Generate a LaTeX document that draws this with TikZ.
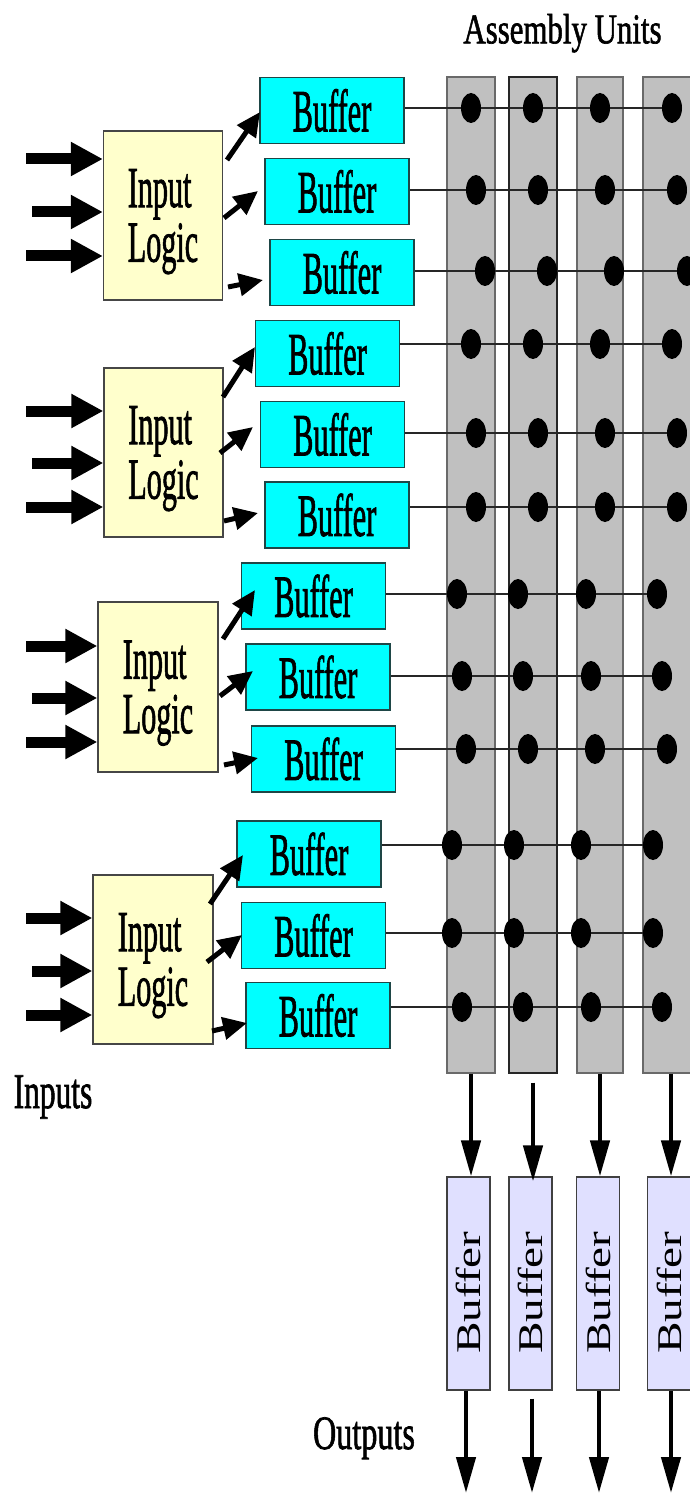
\documentclass[tikz,border=0pt]{standalone}
\usepackage{fontspec}
\setmainfont{Liberation Serif}
\newfontfamily\heavy[FakeBold=1.6]{Liberation Serif}
\usepackage{graphicx}
\usetikzlibrary{arrows.meta,shapes.geometric,calc}
\definecolor{bufcyan}{RGB}{0,255,255}
\definecolor{bufedge}{RGB}{30,70,70}
\definecolor{logicfill}{RGB}{255,255,204}
\definecolor{logicedge}{RGB}{70,70,70}
\definecolor{colfill}{RGB}{192,192,192}
\definecolor{coledge}{RGB}{105,105,105}
\definecolor{obuf}{RGB}{224,224,255}
\newcommand{\sqz}[3]{\scalebox{#1}[1]{\heavy\fontsize{#2}{#2}\selectfont #3}}
\newcommand{\buftext}{\sqz{0.505}{60}{Buffer}}
\newcommand{\lgtext}{\raisebox{-8pt}[\height][\depth]{\scalebox{0.52}[1]{\heavy\fontsize{58}{54}\selectfont\begin{tabular}{@{}l@{}}Input\\Logic\end{tabular}}}}
\newcommand{\obtext}{\scalebox{1.36}[1]{\fontsize{34.7}{34.7}\selectfont Buffer}\rule{18pt}{0pt}}
\pgfdeclarelayer{back}
\pgfdeclarelayer{wires}
\pgfsetlayers{back,wires,main}
\tikzset{
 bufbox/.style={draw=bufedge, fill=bufcyan, line width=1.3pt, minimum width=144pt, minimum height=66pt, inner sep=0pt},
 logicbox/.style={draw=logicedge, fill=logicfill, line width=1.2pt, minimum width=119pt, minimum height=169pt, inner sep=0pt},
 colbox/.style={draw=coledge, fill=colfill, line width=1.2pt, inner sep=0pt, minimum height=996pt},
 obufbox/.style={draw=black!75, fill=obuf, line width=1.2pt, minimum width=213pt, minimum height=43pt, inner sep=0pt, rotate=90},
 dot/.style={ellipse, fill=black, minimum width=20pt, minimum height=30pt, inner sep=0pt},
 wire/.style={draw=black!85, line width=1.6pt},
 inarr/.style={line width=11pt, -{Triangle[length=32pt,width=32pt]}},
 outarr/.style={line width=5pt, -{Triangle[length=24pt,width=22pt]}},
 colarr/.style={line width=4.5pt, -{Triangle[length=36pt,width=19pt]}},
 txt/.style={inner sep=0pt, anchor=base},
}
\begin{document}
\begin{tikzpicture}[x=1pt,y=-1pt]
\useasboundingbox (0,0) rectangle (689,1495);

% background and assembly unit columns
\begin{pgfonlayer}{back}
\fill[white] (0,0) rectangle (689,1495);
\node[colbox, minimum width=48pt] (C1) at (471,575) {};
\node[colbox, minimum width=48pt, draw=black!85] (C2) at (533,575) {};
\node[colbox, minimum width=46pt] (C3) at (600,575) {};
\node[colbox, minimum width=52pt] (C4) at (669,575) {};
\end{pgfonlayer}

\node[txt] (AU) at (562.5,43.3) {\sqz{0.73}{42.3}{Assembly Units}};
\node[txt] (IN) at (53,1108) {\sqz{0.63}{50}{Inputs}};
\node[txt] (OUT) at (364,1449) {\sqz{0.67}{48}{Outputs}};

% input logic boxes
\node[logicbox] (L1) at (163,215.5) {\lgtext};
\node[logicbox] (L2) at (163.5,452.5) {\lgtext};
\node[logicbox, minimum width=120pt, minimum height=170pt] (L3) at (158,687) {\lgtext};
\node[logicbox, minimum width=120pt] (L4) at (153,959.5) {\lgtext};

% buffers
\node[bufbox] (B11) at (332,110.5) {\buftext};
\node[bufbox] (B12) at (337,191.5) {\buftext};
\node[bufbox] (B13) at (342,272.5) {\buftext};
\node[bufbox] (B21) at (327.5,353.5) {\buftext};
\node[bufbox] (B22) at (332.5,434.5) {\buftext};
\node[bufbox] (B23) at (337,515) {\buftext};
\node[bufbox] (B31) at (313.5,596) {\buftext};
\node[bufbox] (B32) at (318,677) {\buftext};
\node[bufbox] (B33) at (323.5,759) {\buftext};
\node[bufbox] (B41) at (309,854) {\buftext};
\node[bufbox] (B42) at (313.5,935.5) {\buftext};
\node[bufbox] (B43) at (318,1015.5) {\buftext};

% dots
\foreach \g/\r/\y/\a/\b/\c/\d in {
 1/1/108/471/533/600/672, 1/2/190/476/538/605/677, 1/3/271/485/547/614/687,
 2/1/344/471/533/600/672, 2/2/433/476/538/605/677, 2/3/507/476/538/605/677,
 3/1/594/457/518/586/657, 3/2/676/462/523/591/662, 3/3/749/466/528/595/667,
 4/1/845/452/514/581/653, 4/2/933/452/514/581/653, 4/3/1007/462/523/591/662}{
 \node[dot] (D\g\r1) at (\a,\y) {};
 \node[dot] (D\g\r2) at (\b,\y) {};
 \node[dot] (D\g\r3) at (\c,\y) {};
 \node[dot] (D\g\r4) at (\d,\y) {};
}
\begin{pgfonlayer}{wires}
\foreach \g in {1,2,3,4}{
 \foreach \r in {1,2,3}{
  \draw[wire] (B\g\r.east |- D\g\r4) -- (D\g\r4.center);
 }
}
\end{pgfonlayer}

% input arrows
\foreach \g/\ya/\yb/\yc in {1/159/212/256, 2/411/463/507, 3/646/698/742, 4/918/971/1015}{
 \coordinate (I\g1) at (26,\ya);
 \coordinate (I\g2) at (32,\yb);
 \coordinate (I\g3) at (26,\yc);
 \draw[inarr] (I\g1) -- (L\g.west |- I\g1);
 \draw[inarr] (I\g2) -- (L\g.west |- I\g2);
 \draw[inarr] (I\g3) -- (L\g.west |- I\g3);
}

% logic to buffer arrows
\foreach \g/\r/\sx/\sy/\ex/\ey in {
 1/1/227/160/260/112, 1/2/224/218/258/191, 1/3/228/287/263/280,
 2/1/223/397/255/347, 2/2/220/453/253/427, 2/3/224/521/258/513,
 3/1/223/639/255/590, 3/2/220/696/253/671, 3/3/224/765/258/758,
 4/1/210/904/243/855, 4/2/207/962/242/935, 4/3/212/1031/247/1023}{
 \coordinate (S\g\r) at (\sx,\sy);
 \coordinate (T\g\r) at (\ex,\ey);
 \draw[outarr] (S\g\r) -- (T\g\r);
}

% output buffers
\node[obufbox] (BB1) at (468.5,1283.5) {\obtext};
\node[obufbox] (BB2) at (530.5,1283.5) {\obtext};
\node[obufbox] (BB3) at (598,1283.5) {\obtext};
\node[obufbox] (BB4) at (669,1283.5) {\obtext};

% column to buffer arrows
\draw[colarr] (C1.south) -- (BB1.east -| C1.south);
\draw[colarr] ($(C2.south)+(0,9)$) -- ($(BB2.east -| C2.south)+(0,5)$);
\draw[colarr] (C3.south) -- (BB3.east -| C3.south);
\draw[colarr] ($(C4.south)+(2,0)$) -- ($(BB4.east -| C4.south)+(2,0)$);

% outputs
\coordinate (E1) at (466,1493);
\coordinate (E2) at (532,1493);
\coordinate (E3) at (599,1493);
\coordinate (E4) at (671,1493);
\draw[colarr] (BB1.west -| E1) -- (E1);
\draw[colarr] ($(BB2.west -| E2)+(0,8)$) -- (E2);
\draw[colarr] (BB3.west -| E3) -- (E3);
\draw[colarr] (BB4.west -| E4) -- (E4);
\end{tikzpicture}
\end{document}
